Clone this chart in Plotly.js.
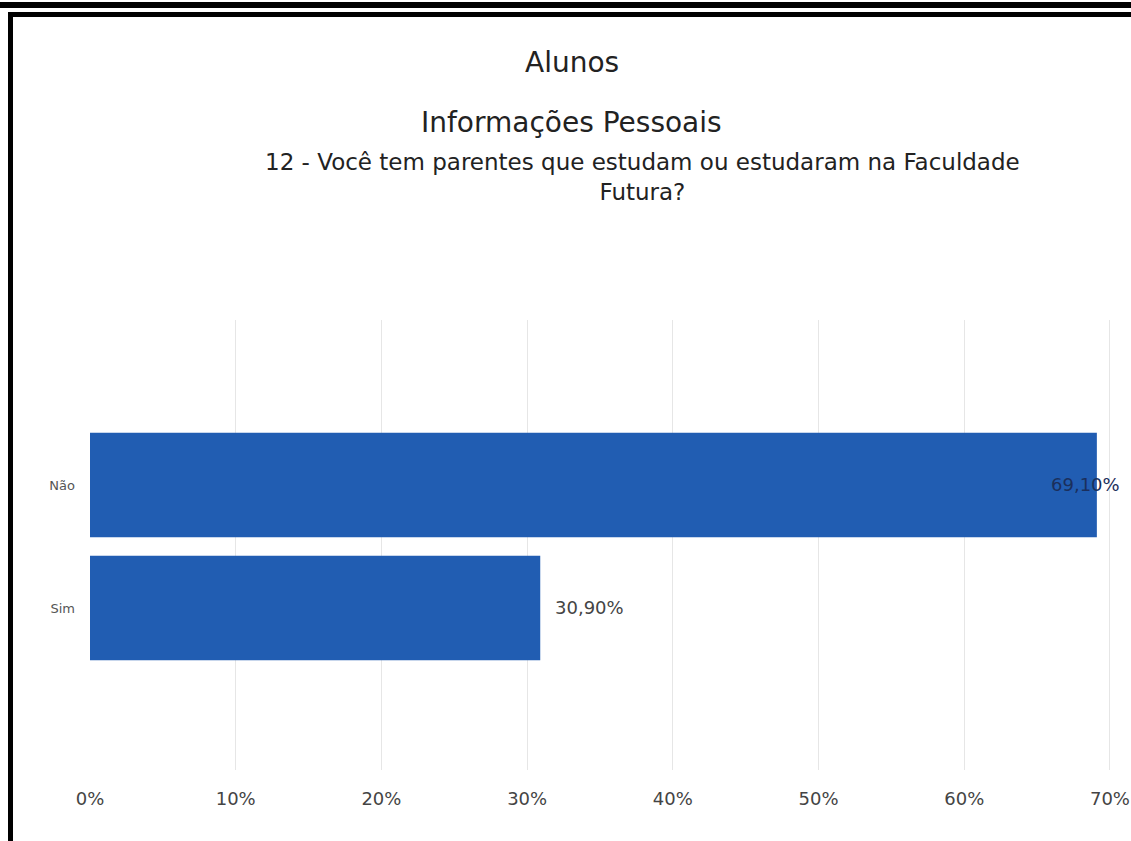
<!DOCTYPE html>
<html>
<head>
<meta charset="utf-8">
<script src="https://cdn.plot.ly/plotly-3.0.1.min.js"></script>
<style>
html,body{margin:0;padding:0;background:#fff;}
#wrap{position:relative;width:1131px;height:841px;overflow:hidden;}
#chart{position:absolute;left:0;top:0;width:1131px;height:841px;}
.b{position:absolute;background:#000;z-index:5;}
</style>
</head>
<body>
<div id="wrap">
<div id="chart"></div>
<div class="b" style="left:0;top:2px;width:1131px;height:6px;"></div>
<div class="b" style="left:8px;top:12px;width:1123px;height:5px;"></div>
<div class="b" style="left:8px;top:12px;width:5px;height:829px;"></div>
</div>
<script>
const categories = ["Sim", "Não"];
const values = [30.9, 69.1];
const valueLabels = ["30,90%", "69,10%"];
const xTickVals = [0, 10, 20, 30, 40, 50, 60, 70];
const xTickText = ["0%", "10%", "20%", "30%", "40%", "50%", "60%", "70%"];
const titleMain = "Alunos";
const titleSub = "Informações Pessoais";
const titleQuestion = "12 - Você tem parentes que estudam ou estudaram na Faculdade<br>Futura?";

const FONT = "DejaVu Sans, sans-serif";

const trace = {
  type: "bar",
  orientation: "h",
  y: categories,
  x: values,
  marker: {color: "#215DB2"},
  width: 0.85,
  hoverinfo: "none"
};

const labelAnns = values.map((v, i) => ({
  x: v, y: categories[i], xref: "x", yref: "y",
  text: valueLabels[i], showarrow: false,
  xanchor: i === 1 ? "right" : "left",
  xshift: i === 1 ? 25 : 13,
  font: {family: FONT, size: 18, color: i === 1 ? "#1B2F5C" : "#444"}
}));

const layout = {
  width: 1131, height: 841,
  paper_bgcolor: "#fff", plot_bgcolor: "#fff",
  margin: {l: 90, r: 5, t: 320, b: 71, autoexpand: false},
  showlegend: false,
  bargap: 0.15,
  xaxis: {
    range: [0, 71.1], tickvals: xTickVals, ticktext: xTickText,
    showgrid: true, gridcolor: "#E6E6E6", gridwidth: 1,
    zeroline: false, showline: false, ticks: "",
    tickfont: {family: FONT, size: 18, color: "#444"},
    ticklabelstandoff: 16,
    ticklabeloverflow: "allow",
    automargin: false,
    fixedrange: true
  },
  yaxis: {
    type: "category", categoryorder: "array", categoryarray: categories,
    range: [-1.317, 2.341],
    showgrid: false, zeroline: false, showline: false, ticks: "",
    tickfont: {family: FONT, size: 13, color: "#555"},
    ticklabelstandoff: 14,
    automargin: false,
    fixedrange: true
  },
  annotations: [
    {xref: "paper", yref: "paper", x: 0.465, y: 1, yshift: 258, xanchor: "center", yanchor: "middle",
     text: titleMain, showarrow: false, font: {family: FONT, size: 28, color: "#222"}},
    {xref: "paper", yref: "paper", x: 0.465, y: 1, yshift: 198, xanchor: "center", yanchor: "middle",
     text: titleSub, showarrow: false, font: {family: FONT, size: 28, color: "#222"}},
    {xref: "paper", yref: "paper", x: 0.533, y: 1, yshift: 143, xanchor: "center", yanchor: "middle",
     text: titleQuestion, showarrow: false, align: "center",
     font: {family: FONT, size: 23, color: "#222"}}
  ].concat(labelAnns)
};

Plotly.newPlot("chart", [trace], layout, {displayModeBar: false, staticPlot: true});
</script>
</body>
</html>
